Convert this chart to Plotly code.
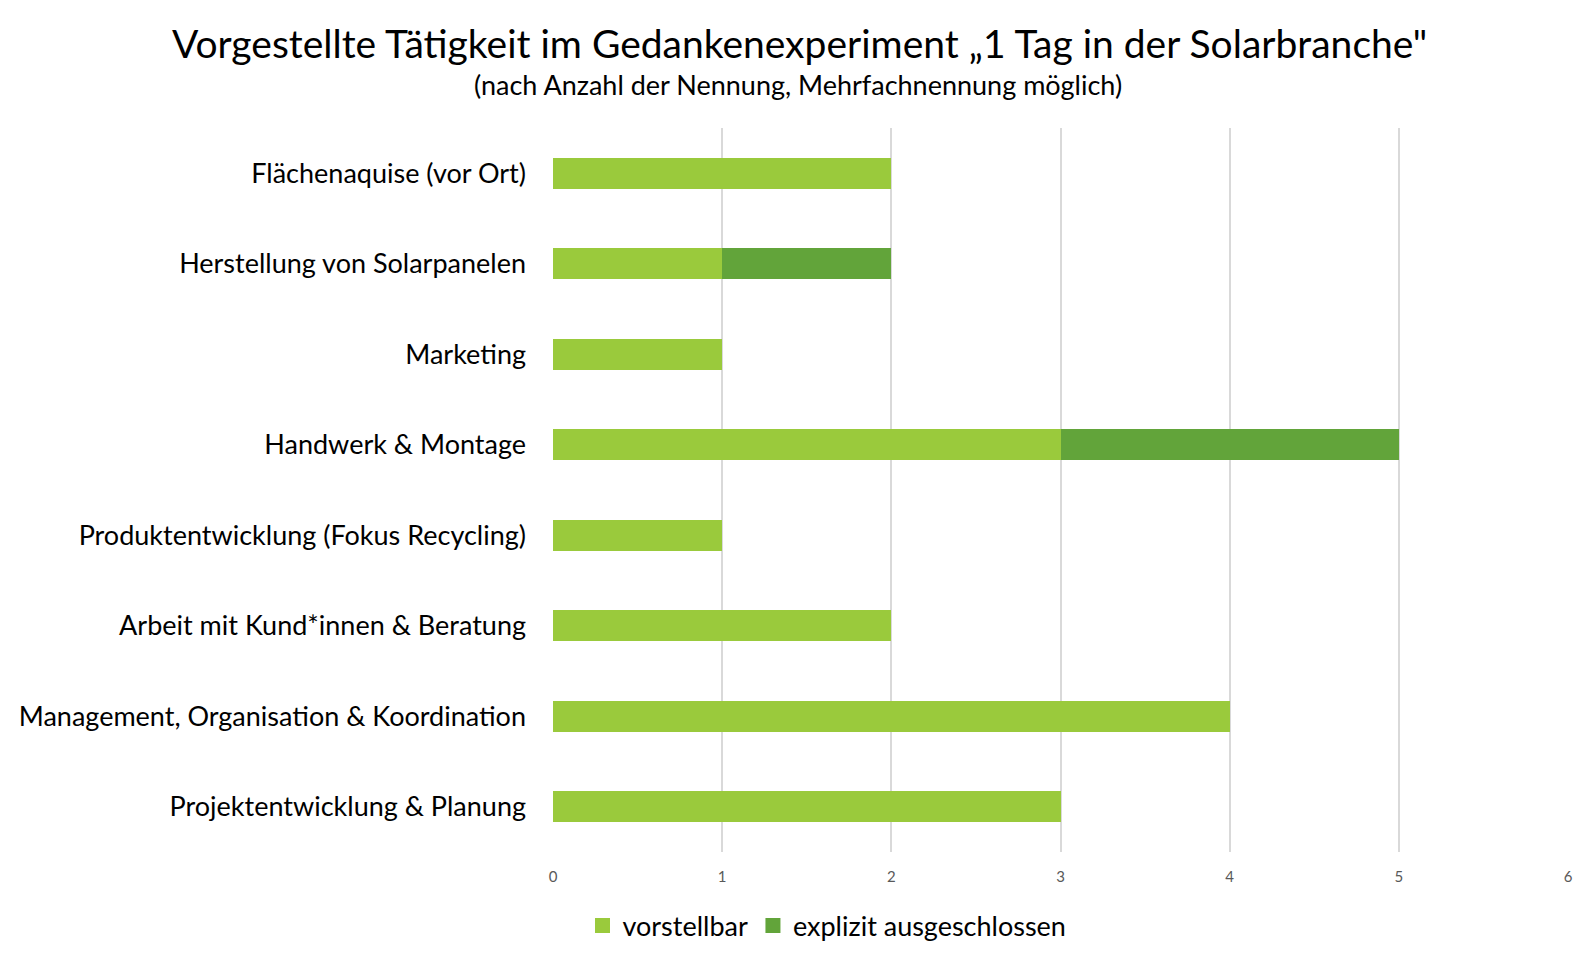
import plotly.graph_objects as go

categories = [
    "Flächenaquise (vor Ort)",
    "Herstellung von Solarpanelen",
    "Marketing",
    "Handwerk & Montage",
    "Produktentwicklung (Fokus Recycling)",
    "Arbeit mit Kund*innen & Beratung",
    "Management, Organisation & Koordination",
    "Projektentwicklung & Planung",
]
vorstellbar = [2, 1, 1, 3, 1, 2, 4, 3]
ausgeschlossen = [0, 1, 0, 2, 0, 0, 0, 0]
x_ticks = [0, 1, 2, 3, 4, 5, 6]
series_names = ["vorstellbar", "explizit ausgeschlossen"]
series_colors = ["#9ACA3C", "#62A43A"]

FONT = "Lato"
W, H = 1580, 944
L, R, T, B = 545, 20, 120, 100
plot_w = W - L - R
plot_h = H - T - B


def px_x(x):
    return (x - L) / plot_w


def px_y(y):
    return 1 + (T - y) / plot_h


fig = go.Figure()
for vals, name, col in zip([vorstellbar, ausgeschlossen], series_names, series_colors):
    fig.add_trace(go.Bar(y=categories, x=vals, orientation="h", name=name, showlegend=False,
                         marker=dict(color=col, line=dict(width=0))))
# legend entries with larger square symbols
for name, col in zip(series_names, series_colors):
    fig.add_trace(go.Scatter(x=[None], y=[None], mode="markers", name=name,
                             marker=dict(symbol="square", size=15, color=col, line=dict(width=0))))

fig.update_layout(
    barmode="stack",
    bargap=0.66,
    width=W, height=H,
    margin=dict(l=L, r=R, t=T, b=B, autoexpand=False),
    paper_bgcolor="white", plot_bgcolor="white",
    font=dict(family=FONT, color="#000000"),
    showlegend=True,
    legend=dict(orientation="h", x=px_x(819), xanchor="center", y=px_y(918), yanchor="middle",
                font=dict(size=27, family=FONT, color="#000000"), traceorder="normal",
                itemwidth=30),
    annotations=[
        dict(text="Vorgestellte Tätigkeit im Gedankenexperiment „1 Tag in der Solarbranche\"",
             xref="paper", yref="paper", x=px_x(791), y=px_y(35), xanchor="center", yanchor="middle",
             showarrow=False, font=dict(size=39, family=FONT, color="#000000")),
        dict(text="(nach Anzahl der Nennung, Mehrfachnennung möglich)",
             xref="paper", yref="paper", x=px_x(790), y=px_y(77), xanchor="center", yanchor="middle",
             showarrow=False, font=dict(size=27, family=FONT, color="#000000")),
    ],
)

fig.update_xaxes(range=[0, 6], tickvals=x_ticks, showgrid=True, gridcolor="#D9D9D9", gridwidth=2,
                 zeroline=False, showline=False, ticks="",
                 tickfont=dict(size=15, color="#595959", family=FONT), ticklabelstandoff=14)
fig.update_yaxes(autorange="reversed", showgrid=False, zeroline=False, showline=False, ticks="",
                 tickfont=dict(size=27, color="#000000", family=FONT), ticklabelstandoff=26)

fig.write_html("out.html")
